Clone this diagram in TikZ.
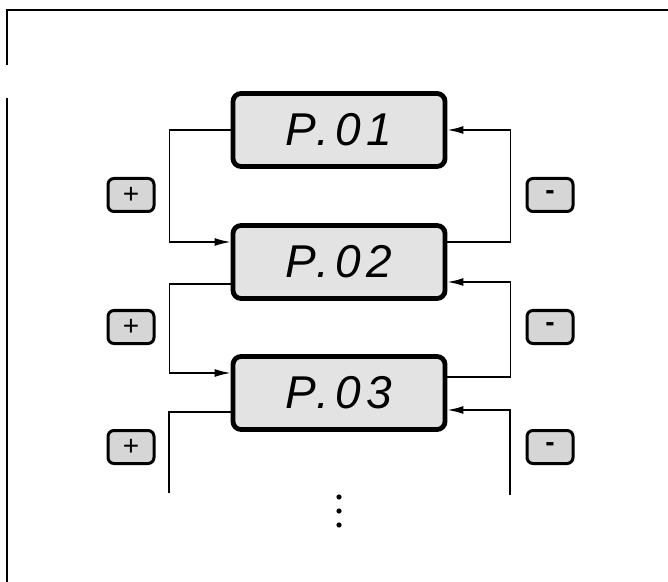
\documentclass[tikz,border=0pt]{standalone}
\usepackage{fontspec}
\setmainfont{Liberation Sans}
\usepackage{tikz}
\usetikzlibrary{arrows.meta}

\begin{document}
\begin{tikzpicture}[x=0.5pt,y=-0.5pt,
    display/.style={draw,line width=2.4pt,rounded corners=4pt,fill=black!11,
      minimum width=106pt,minimum height=36.5pt,inner sep=0pt,
      font=\fontsize{23}{25}\selectfont\itshape\addfontfeature{LetterSpace=13}},
    pushkey/.style={draw,line width=1.5pt,rounded corners=3pt,fill=black!16,
      minimum width=23pt,minimum height=16.5pt,inner sep=0pt,
      font=\fontsize{14}{15}\selectfont},
    link/.style={line width=0.8pt,-{Latex[length=8pt,width=4pt]}}]
  \useasboundingbox (0,0) rectangle (668,582);
  % frame round the panel
  \draw[line width=0.8pt] (7,65) -- (7,10) -- (668,10);
  \draw[line width=0.8pt] (7,98) -- (7,582);
  % ---------- displays and keys ----------
  \foreach \i/\y in {1/130,2/262,3/393}
    \node[display] (disp\i) at (339,\y) {P.0\i};
  \foreach \i/\y in {1/195,2/327,3/447} {
    \node[pushkey] (plus\i) at (131,\y) {+};
    \node[pushkey] (minus\i) at (550,\y) {\textbf{-}};
  }
  % ---------- left: stepping down with + ----------
  \coordinate (downend) at (169,493);
  \draw[link] (disp1.west) -- ++(-61,0) |- ([yshift=10pt]disp2.west);
  \draw[link] ([yshift=-11pt]disp2.west) -- ++(-61,0) |- ([yshift=10pt]disp3.west);
  \draw[line width=0.8pt] ([yshift=-9.5pt]disp3.west) -| (downend);
  % ---------- right: stepping up with - ----------
  \coordinate (upstart) at (510,495);
  \draw[link] ([yshift=10pt]disp2.east) -- ++(63,0) |- (disp1.east);
  \draw[link] ([yshift=8pt]disp3.east) -- ++(63,0) |- ([yshift=-10pt]disp2.east);
  \draw[link] (upstart) |- ([yshift=-8.5pt]disp3.east);
  % more parameters follow
  \foreach \y in {497,511,525} \fill (339,\y) circle (1.3pt);
\end{tikzpicture}
\end{document}
